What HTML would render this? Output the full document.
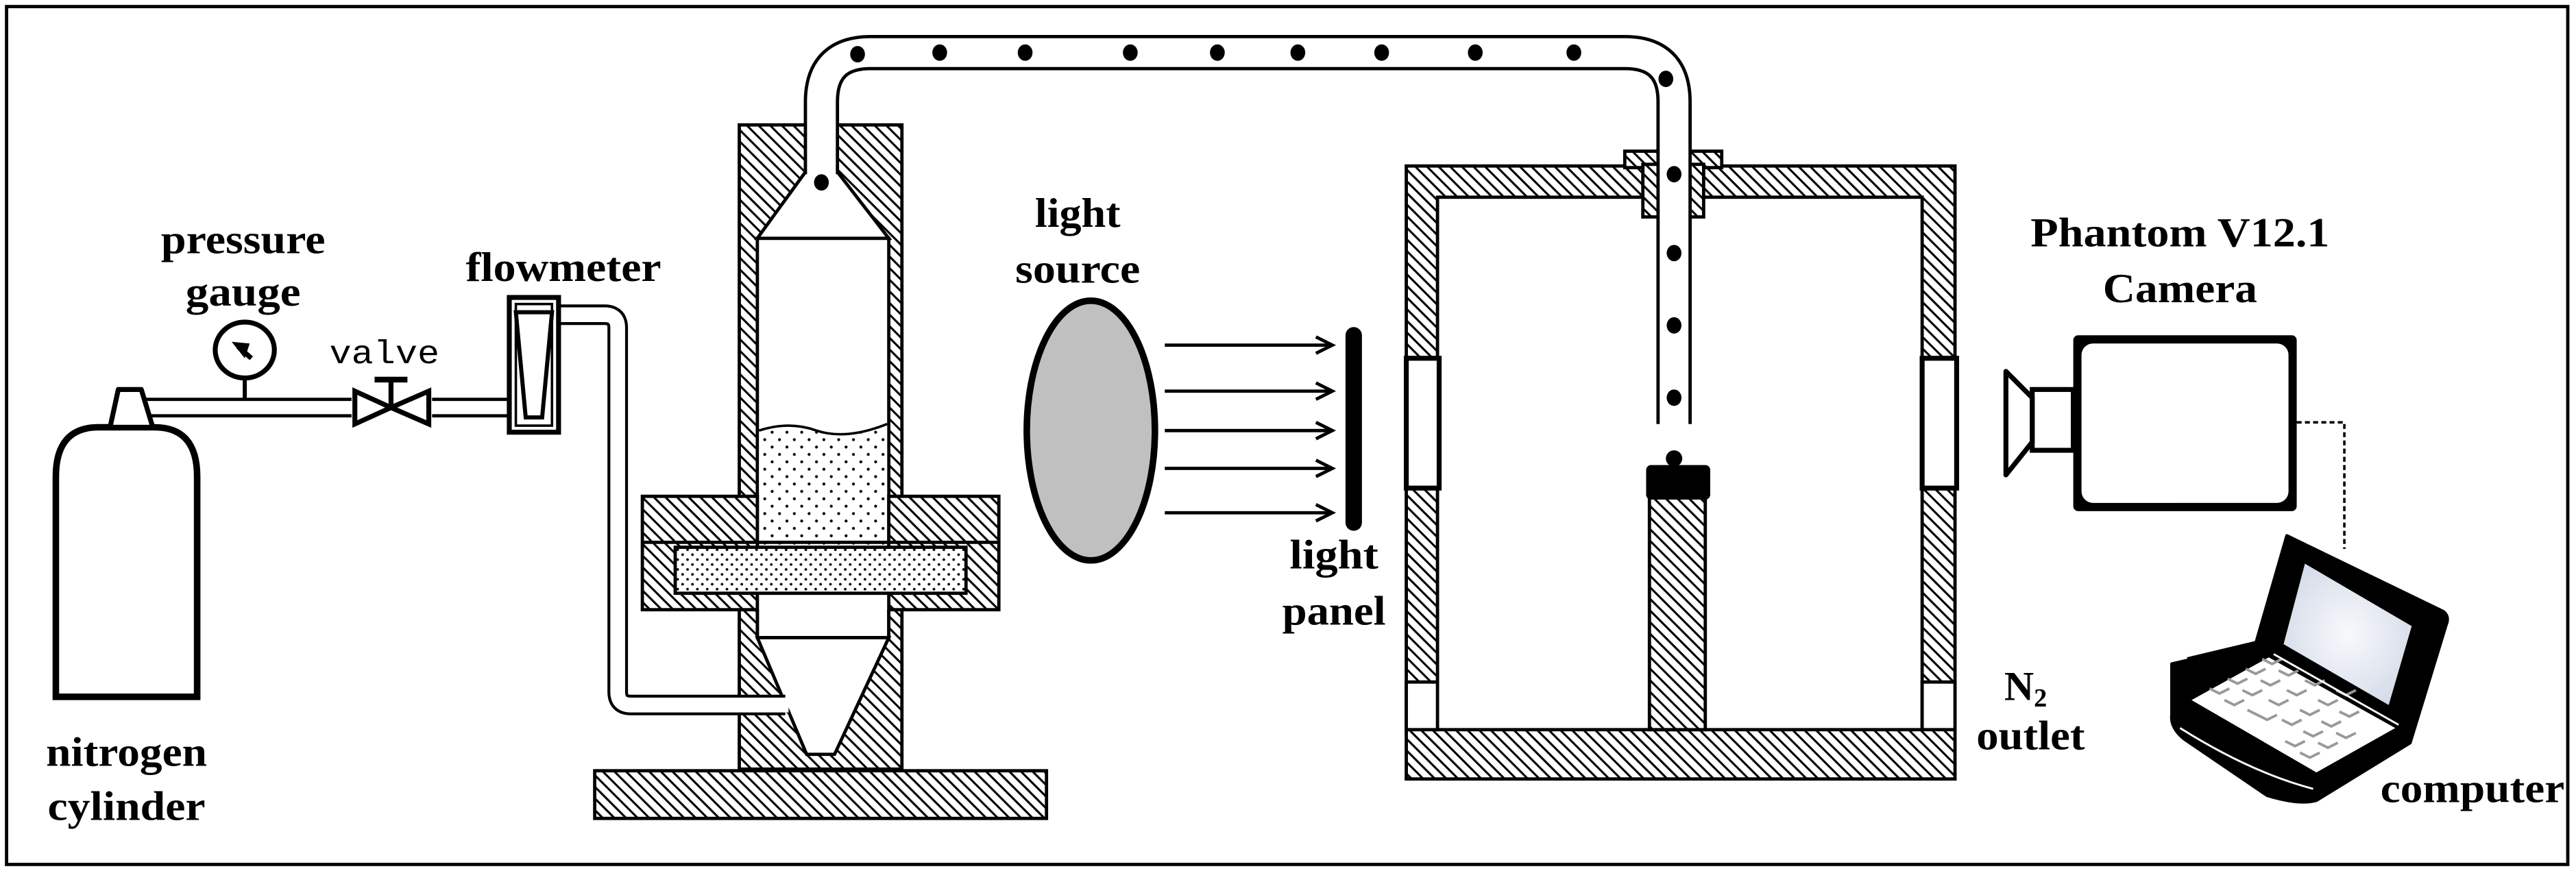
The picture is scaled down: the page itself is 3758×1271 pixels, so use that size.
<!DOCTYPE html>
<html><head><meta charset="utf-8"><style>html,body{margin:0;padding:0;background:#fff}svg{display:block}</style></head>
<body>
<svg width="3758" height="1271" viewBox="0 0 1568 530" preserveAspectRatio="none" xmlns="http://www.w3.org/2000/svg">
<defs>
<pattern id="h" patternUnits="userSpaceOnUse" width="5" height="5" patternTransform="rotate(-45)">
<rect width="5" height="5" fill="#fff"/><line x1="2.5" y1="0" x2="2.5" y2="5" stroke="#000" stroke-width="1.3"/></pattern>
<pattern id="d" patternUnits="userSpaceOnUse" width="9" height="9">
<rect width="9" height="9" fill="#fff"/><circle cx="2" cy="2" r="0.9" fill="#000"/><circle cx="6.5" cy="6.5" r="0.9" fill="#000"/></pattern>
<pattern id="d2" patternUnits="userSpaceOnUse" width="6" height="6">
<rect width="6" height="6" fill="#fff"/><circle cx="1.5" cy="1.5" r="0.8" fill="#000"/><circle cx="4.5" cy="4.5" r="0.8" fill="#000"/></pattern>
<radialGradient id="scr" cx="0.5" cy="0.5" r="0.6"><stop offset="0" stop-color="#f8f9fc"/><stop offset="1" stop-color="#d3dae8"/></radialGradient>
</defs>
<rect x="0" y="0" width="1568" height="530" fill="#fff"/>
<rect x="4" y="4" width="1559" height="522" fill="none" stroke="#000" stroke-width="2"/>

<g font-family="'Liberation Serif',serif" font-weight="bold" font-size="25" text-anchor="middle" fill="#000">
<text x="148" y="154" textLength="100" lengthAdjust="spacingAndGlyphs">pressure</text>
<text x="148" y="186" textLength="70" lengthAdjust="spacingAndGlyphs">gauge</text>
<text x="343" y="171" textLength="119" lengthAdjust="spacingAndGlyphs">flowmeter</text>
<text x="656" y="138" textLength="52" lengthAdjust="spacingAndGlyphs">light</text>
<text x="656" y="172" textLength="76" lengthAdjust="spacingAndGlyphs">source</text>
<text x="77" y="466" textLength="98" lengthAdjust="spacingAndGlyphs">nitrogen</text>
<text x="77" y="499" textLength="96" lengthAdjust="spacingAndGlyphs">cylinder</text>
<text x="812" y="346" textLength="54" lengthAdjust="spacingAndGlyphs">light</text>
<text x="812" y="380" textLength="63" lengthAdjust="spacingAndGlyphs">panel</text>
<text x="926" y="248" textLength="58" lengthAdjust="spacingAndGlyphs">View</text>
<text x="926" y="281" textLength="89" lengthAdjust="spacingAndGlyphs">window</text>
<text x="1076" y="306" textLength="39" lengthAdjust="spacingAndGlyphs">flat</text>
<text x="1327" y="150" textLength="182" lengthAdjust="spacingAndGlyphs">Phantom V12.1</text>
<text x="1327" y="184" textLength="94" lengthAdjust="spacingAndGlyphs">Camera</text>
<text x="1233" y="426">N<tspan font-size="16" dy="4">2</tspan></text>
<text x="1236" y="456" textLength="66" lengthAdjust="spacingAndGlyphs">outlet</text>
<text x="1505" y="488" textLength="112" lengthAdjust="spacingAndGlyphs">computer</text>
</g>
<text x="234" y="221" font-family="'Liberation Mono',monospace" font-size="20" text-anchor="middle" textLength="67" lengthAdjust="spacingAndGlyphs">valve</text>

<!-- cylinder -->
<path d="M34,424 L34,290 Q34,260 60,260 L94,260 Q120,260 120,290 L120,424 Z" fill="#fff" stroke="#000" stroke-width="4"/>
<polygon points="72,237 86,237 93,260 67,260" fill="#fff" stroke="#000" stroke-width="3" stroke-linejoin="round"/>
<!-- pipe to flowmeter -->
<line x1="88" y1="243" x2="310" y2="243" stroke="#000" stroke-width="2"/>
<line x1="92" y1="253" x2="310" y2="253" stroke="#000" stroke-width="2"/>
<!-- gauge -->
<line x1="149" y1="230" x2="149" y2="243" stroke="#000" stroke-width="2.5"/>
<ellipse cx="149" cy="213" rx="18" ry="17" fill="#fff" stroke="#000" stroke-width="3"/>
<polygon points="141,208 152,209 149,218" fill="#000"/>
<line x1="145" y1="211" x2="153" y2="218" stroke="#000" stroke-width="3"/>
<!-- valve -->
<rect x="214" y="238" width="49" height="20" fill="#fff"/>
<polygon points="216,238 238,248 216,258" fill="#fff" stroke="#000" stroke-width="3"/>
<polygon points="261,238 238,248 261,258" fill="#fff" stroke="#000" stroke-width="3"/>
<line x1="238" y1="231" x2="238" y2="248" stroke="#000" stroke-width="3"/>
<line x1="228" y1="231" x2="248" y2="231" stroke="#000" stroke-width="3.5"/>

<!-- column -->
<rect x="450" y="76" width="99" height="392" fill="url(#h)" stroke="#000" stroke-width="2"/>
<rect x="461" y="145" width="80" height="243" fill="#fff" stroke="#000" stroke-width="2"/>
<polygon points="490,105 510,105 541,145 461,145" fill="#fff" stroke="#000" stroke-width="2"/>
<rect x="491" y="74" width="18" height="31" fill="#fff"/>
<polygon points="461,388 541,388 508,459 491,459" fill="#fff" stroke="#000" stroke-width="2"/>
<!-- particles -->
<path d="M462,262 Q480,256 497,262 Q515,268 540,258 L540,333 L462,333 Z" fill="url(#d)"/>
<path d="M462,262 Q480,256 497,262 Q515,268 540,258" fill="none" stroke="#000" stroke-width="1.5"/>
<!-- flanges -->
<rect x="391" y="302" width="70" height="69" fill="url(#h)" stroke="#000" stroke-width="2"/>
<rect x="541" y="302" width="67" height="69" fill="url(#h)" stroke="#000" stroke-width="2"/>
<line x1="391" y1="330" x2="608" y2="330" stroke="#000" stroke-width="2"/>
<rect x="461" y="361" width="80" height="10" fill="#fff"/>
<line x1="461" y1="361" x2="461" y2="388" stroke="#000" stroke-width="2"/>
<line x1="541" y1="361" x2="541" y2="388" stroke="#000" stroke-width="2"/>
<rect x="411" y="333" width="177" height="28" fill="url(#d2)" stroke="#000" stroke-width="2"/>
<!-- base -->
<rect x="362" y="469" width="275" height="29" fill="url(#h)" stroke="#000" stroke-width="2"/>

<!-- flowmeter pipe -->
<path d="M340,191.5 L368,191.5 Q376,191.5 376,199.5 L376,421 Q376,429 384,429 L478,429" fill="none" stroke="#000" stroke-width="12.5"/>
<path d="M338,191.5 L368,191.5 Q376,191.5 376,199.5 L376,421 Q376,429 384,429 L480,429" fill="none" stroke="#fff" stroke-width="9"/>
<!-- flowmeter -->
<rect x="310" y="181" width="30" height="82" fill="#fff" stroke="#000" stroke-width="3"/>
<rect x="314" y="185" width="22" height="74" fill="none" stroke="#000" stroke-width="1.5"/>
<polygon points="314,190 336,190 330,254 320,254" fill="#fff" stroke="#000" stroke-width="2.5"/>

<!-- chamber -->
<rect x="856" y="101" width="334" height="373" fill="url(#h)" stroke="#000" stroke-width="2"/>
<rect x="875" y="120" width="295" height="324" fill="#fff" stroke="#000" stroke-width="2"/>
<rect x="856" y="415" width="19" height="29" fill="#fff" stroke="#000" stroke-width="2"/>
<rect x="1170" y="415" width="20" height="29" fill="#fff" stroke="#000" stroke-width="2"/>
<rect x="856" y="218" width="20" height="79" fill="#fff" stroke="#000" stroke-width="3"/>
<rect x="1170" y="218" width="21" height="79" fill="#fff" stroke="#000" stroke-width="3"/>
<rect x="989" y="92" width="59" height="10" fill="url(#h)" stroke="#000" stroke-width="2"/>
<rect x="1000" y="100" width="37" height="32" fill="url(#h)" stroke="#000" stroke-width="2"/>
<!-- pillar & flat -->
<rect x="1004" y="303" width="34" height="141" fill="url(#h)" stroke="#000" stroke-width="2"/>
<rect x="1002" y="283" width="39" height="21" rx="3" fill="#000"/>
<circle cx="1019" cy="279" r="5" fill="#000"/>

<!-- top pipe -->
<path d="M500,105 L500,62 Q500,32 530,32 L989,32 Q1019,32 1019,62 L1019,258" fill="none" stroke="#000" stroke-width="21.5"/>
<path d="M500,107 L500,62 Q500,32 530,32 L989,32 Q1019,32 1019,62 L1019,260" fill="none" stroke="#fff" stroke-width="17.5"/>
<g fill="#000">
<ellipse cx="500" cy="111" rx="4.5" ry="5"/>
<ellipse cx="522" cy="33" rx="4.5" ry="5"/><ellipse cx="572" cy="32" rx="4.5" ry="5"/>
<ellipse cx="624" cy="32" rx="4.5" ry="5"/><ellipse cx="688" cy="32" rx="4.5" ry="5"/>
<ellipse cx="741" cy="32" rx="4.5" ry="5"/><ellipse cx="790" cy="32" rx="4.5" ry="5"/>
<ellipse cx="841" cy="32" rx="4.5" ry="5"/><ellipse cx="898" cy="32" rx="4.5" ry="5"/>
<ellipse cx="958" cy="32" rx="4.5" ry="5"/><ellipse cx="1014" cy="48" rx="4.5" ry="5"/>
<ellipse cx="1019" cy="106" rx="4.5" ry="5"/><ellipse cx="1019" cy="154" rx="4.5" ry="5"/>
<ellipse cx="1019" cy="198" rx="4.5" ry="5"/><ellipse cx="1019" cy="242" rx="4.5" ry="5"/>
</g>

<!-- light source -->
<ellipse cx="664" cy="262" rx="39" ry="79" fill="#c0c0c0" stroke="#000" stroke-width="4"/>
<g stroke="#000" stroke-width="2" fill="none">
<line x1="709" y1="210" x2="810" y2="210"/><polyline points="801,205 811,210 801,215"/>
<line x1="709" y1="238" x2="810" y2="238"/><polyline points="801,233 811,238 801,243"/>
<line x1="709" y1="262" x2="810" y2="262"/><polyline points="801,257 811,262 801,267"/>
<line x1="709" y1="285" x2="810" y2="285"/><polyline points="801,280 811,285 801,290"/>
<line x1="709" y1="312" x2="810" y2="312"/><polyline points="801,307 811,312 801,317"/>
</g>
<rect x="819" y="199" width="10" height="124" rx="5" fill="#000"/>

<!-- camera -->
<rect x="1262" y="204" width="136" height="107" rx="3" fill="#000"/>
<rect x="1267" y="209" width="126" height="97" rx="7" fill="#fff"/>
<rect x="1237" y="237" width="25" height="37" fill="#fff" stroke="#000" stroke-width="3"/>
<polygon points="1221,226 1237,242 1237,269 1221,289" fill="#fff" stroke="#000" stroke-width="3" stroke-linejoin="round"/>
<polyline points="1398,257 1427,257 1427,334" fill="none" stroke="#000" stroke-width="1.5" stroke-dasharray="3,2"/>

<!-- laptop -->
<path d="M1392,326 L1487,372 Q1491,375 1489,380 L1467,452 L1410,487 Q1400,490 1380,484 L1330,450 Q1321,443 1322,435 L1322,404 L1373,392 Z" fill="#000" stroke="#000" stroke-width="2" stroke-linejoin="round"/>
<path d="M1331,400 L1373,390 L1467,452 L1410,487" fill="#000"/>
<polygon points="1403,343 1468,381 1454,429 1390,392" fill="url(#scr)"/>
<line x1="1316" y1="445" x2="1318" y2="445" stroke="#fff"/>
<polygon points="1334,426 1381,400 1458,443 1410,470" fill="#fff"/>
<g stroke="#999" stroke-width="1.6" fill="none">
<path d="M1345,419 l6,3 6,-3 M1356,413 l6,3 6,-3 M1367,407 l6,3 6,-3 M1377,401 l6,3 6,-3"/>
<path d="M1354,426 l6,3 6,-3 M1365,420 l6,3 6,-3 M1376,414 l6,3 6,-3 M1387,408 l6,3 6,-3"/>
<path d="M1368,432 l12,6 6,-3 M1381,426 l6,3 6,-3 M1392,420 l6,3 6,-3 M1403,414 l6,3 6,-3"/>
<path d="M1389,438 l6,3 6,-3 M1400,432 l6,3 6,-3 M1411,426 l6,3 6,-3 M1422,420 l6,3 6,-3"/>
<path d="M1391,451 l6,3 6,-3 M1402,445 l6,3 6,-3 M1413,439 l6,3 6,-3 M1424,433 l6,3 6,-3"/>
<path d="M1400,458 l6,3 6,-3 M1411,452 l6,3 6,-3 M1422,446 l6,3 6,-3"/>
</g>
<line x1="1384" y1="398" x2="1460" y2="441" stroke="#fff" stroke-width="1.2"/>
<path d="M1327,443 Q1370,470 1408,480" fill="none" stroke="#fff" stroke-width="1.2"/>
</svg>
</body></html>
